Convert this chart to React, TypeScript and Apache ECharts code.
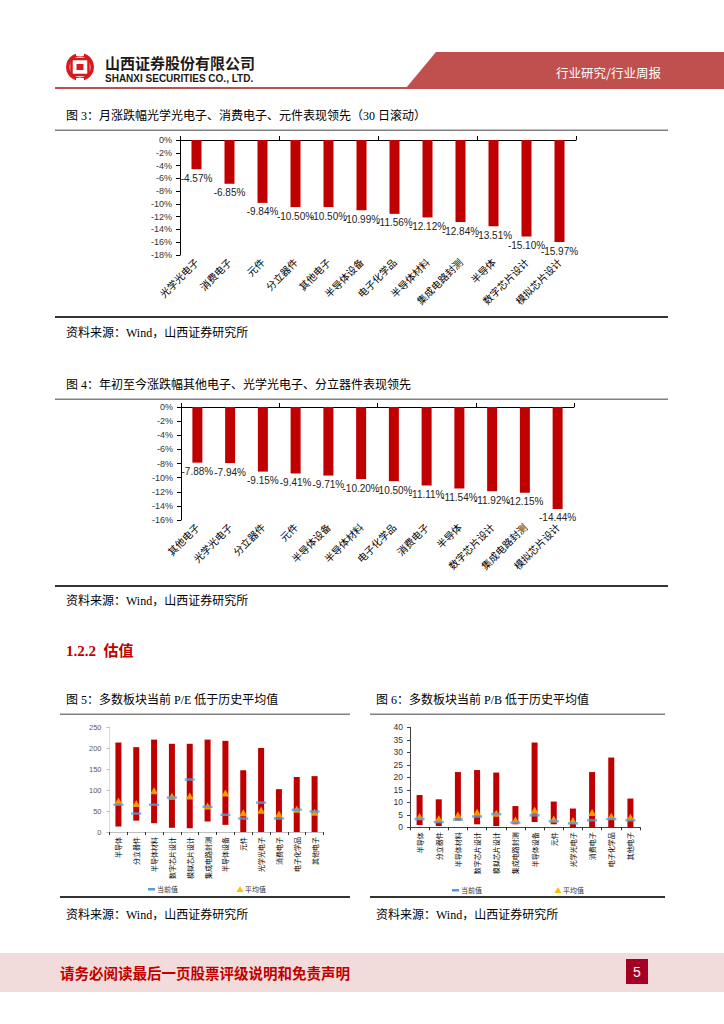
import React, { useEffect, useRef } from "react";
import * as echarts from "echarts";

const cats3 = ["光学光电子", "消费电子", "元件", "分立器件", "其他电子", "半导体设备", "电子化学品", "半导体材料", "集成电路封测", "半导体", "数字芯片设计", "模拟芯片设计"];
const vals3 = [-4.57, -6.85, -9.84, -10.5, -10.5, -10.99, -11.56, -12.12, -12.84, -13.51, -15.1, -15.97];

const cats4 = ["其他电子", "光学光电子", "分立器件", "元件", "半导体设备", "半导体材料", "电子化学品", "消费电子", "半导体", "数字芯片设计", "集成电路封测", "模拟芯片设计"];
const vals4 = [-7.88, -7.94, -9.15, -9.41, -9.71, -10.2, -10.5, -11.11, -11.54, -11.92, -12.15, -14.44];

const cats5 = ["半导体", "分立器件", "半导体材料", "数字芯片设计", "模拟芯片设计", "集成电路封测", "半导体设备", "元件", "光学光电子", "消费电子", "电子化学品", "其他电子"];
const peMax = [213, 202, 220, 210, 210, 220, 217, 147, 200, 102, 131, 133];
const peMin = [13, 27, 21, 10, 9, 25, 17, 0, 0, 0, 0, 0];
const peCur = [65, 44, 65, 82, 125, 60, 41, 32, 70, 32, 53, 49];
const peAvg = [74, 68, 98, 85, 86, 62, 93, 46, 52, 43, 54, 47];

const cats6 = ["半导体", "分立器件", "半导体材料", "数字芯片设计", "模拟芯片设计", "集成电路封测", "半导体设备", "元件", "光学光电子", "消费电子", "电子化学品", "其他电子"];
const pbMax = [12.9, 11.2, 22.1, 22.9, 21.9, 8.5, 33.9, 10.3, 7.5, 22.1, 27.9, 11.5];
const pbMin = [0.9, 0.5, 2.7, 1.2, 0.5, 1.2, 2.1, 1.2, 0, 0, 0, 0];
const pbCur = [3.3, 2.1, 3.1, 4.3, 5.3, 1.9, 4.8, 2.4, 1.6, 2.8, 3.3, 2.8];
const pbAvg = [4.3, 3.5, 4.9, 6.0, 5.6, 2.9, 6.8, 3.3, 2.7, 5.9, 4.4, 4.0];

const RED = "#C00000";
const SANS = "Liberation Sans, Noto Sans CJK SC, sans-serif";
const SERIF = "Liberation Serif, Noto Sans CJK SC, serif";
const CJK = "Noto Sans CJK SC, sans-serif";

function txt(x: number, y: number, text: string, size: number, color: string, opts: any = {}) {
  return {
    type: "text",
    x,
    y,
    silent: true,
    style: {
      text,
      fill: color,
      fontSize: size,
      fontFamily: opts.family || SERIF,
      fontWeight: opts.weight || "normal",
      textAlign: opts.align || "left",
      textVerticalAlign: "middle",
    },
  };
}
function rect(x: number, y: number, w: number, h: number, fill: string) {
  return { type: "rect", silent: true, shape: { x, y, width: w, height: h }, style: { fill } };
}

export default function App() {
  const ref = useRef<HTMLDivElement>(null);
  useEffect(() => {
    if (!ref.current) return;
    const chart = echarts.init(ref.current, undefined, { renderer: "svg" });

    const pctAxisLabel = { fontSize: 9, color: "#333", fontFamily: SANS, formatter: (v: number) => `${v}%` };
    const barLabel = {
      show: true,
      position: "bottom",
      distance: 4,
      fontSize: 10,
      color: "#222",
      fontFamily: SANS,
      formatter: (p: any) => `${Number(p.value).toFixed(2)}%`,
    };

    const graphic: any[] = [
      // header
      { type: "polygon", silent: true, shape: { points: [[436, 52], [724, 52], [724, 88], [406, 88]] }, style: { fill: "#C0504D" } },
      rect(55, 87, 669, 2, "#C0504D"),
      { type: "ring", silent: true, shape: { cx: 80, cy: 67, r: 14, r0: 10.5 }, style: { fill: "#D7191C" } },
      rect(76, 52, 8, 4, "#fff"),
      rect(76, 78, 8, 4, "#fff"),
      { type: "rect", silent: true, shape: { x: 71.5, y: 59, width: 17, height: 16 }, style: { fill: "none", stroke: "#D7191C", lineWidth: 2.5 } },
      rect(76.5, 64, 7, 6, "#D7191C"),
      txt(105, 62, "山西证券股份有限公司", 15, "#231815", { family: CJK, weight: "bold" }),
      txt(105, 78, "SHANXI SECURITIES CO., LTD.", 10, "#231815", { family: SANS, weight: "bold" }),
      txt(556, 72, "行业研究/行业周报", 12.5, "#ffffff", { family: CJK }),

      // chart 3
      txt(66, 116, "图 3：月涨跌幅光学光电子、消费电子、元件表现领先（30 日滚动）", 12, "#000", { family: SERIF }),
      rect(55, 129.5, 613, 1.5, "#808080"),
      rect(55, 316, 613, 2, "#333"),
      txt(66, 333, "资料来源：Wind，山西证券研究所", 12, "#000", { family: SERIF }),

      // chart 4
      txt(66, 385, "图 4：年初至今涨跌幅其他电子、光学光电子、分立器件表现领先", 12, "#000", { family: SERIF }),
      rect(55, 398.5, 613, 1.5, "#808080"),
      rect(55, 585, 613, 2, "#333"),
      txt(66, 601, "资料来源：Wind，山西证券研究所", 12, "#000", { family: SERIF }),

      // section
      txt(66, 651, "1.2.2  估值", 15, RED, { family: SERIF, weight: "bold" }),

      // chart 5
      txt(66, 700, "图 5：多数板块当前 P/E 低于历史平均值", 12, "#000", { family: SERIF }),
      rect(60, 713.5, 290, 1.5, "#808080"),
      rect(60, 896, 290, 2, "#333"),
      txt(66, 915, "资料来源：Wind，山西证券研究所", 12, "#000", { family: SERIF }),
      rect(148, 888, 7, 2.5, "#5B9BD5"),
      txt(157, 889, "当前值", 7, "#333", { family: CJK }),
      { type: "polygon", silent: true, shape: { points: [[240, 886], [243.5, 892], [236.5, 892]] }, style: { fill: "#FFC000" } },
      txt(245, 889, "平均值", 7, "#333", { family: CJK }),

      // chart 6
      txt(376, 700, "图 6：多数板块当前 P/B 低于历史平均值", 12, "#000", { family: SERIF }),
      rect(370, 713.5, 295, 1.5, "#808080"),
      rect(370, 896, 295, 2, "#333"),
      txt(376, 915, "资料来源：Wind，山西证券研究所", 12, "#000", { family: SERIF }),
      rect(452, 889, 7, 2.5, "#5B9BD5"),
      txt(461, 890, "当前值", 7, "#333", { family: CJK }),
      { type: "polygon", silent: true, shape: { points: [[558, 887], [561.5, 893], [554.5, 893]] }, style: { fill: "#FFC000" } },
      txt(563, 890, "平均值", 7, "#333", { family: CJK }),

      // footer
      rect(0, 953, 724, 39, "#F2DCDB"),
      txt(60, 972, "请务必阅读最后一页股票评级说明和免责声明", 14.5, RED, { family: CJK, weight: "bold" }),
      rect(626, 959, 22, 25, "#A50021"),
      txt(637, 971.5, "5", 14, "#fff", { family: SANS, align: "center" }),
    ];

    const topAxis = (grid: number, data: string[]) => ({
      type: "category",
      gridIndex: grid,
      data,
      position: "top",
      axisLine: { show: true, lineStyle: { color: "#000", width: 1 } },
      axisTick: { show: true, length: 4, lineStyle: { color: "#000" } },
      axisLabel: { show: false },
    });
    const bottomLabelAxis = (grid: number, data: string[]) => ({
      type: "category",
      gridIndex: grid,
      data,
      position: "bottom",
      axisLine: { show: false },
      axisTick: { show: false },
      axisLabel: { interval: 0, rotate: 45, fontSize: 10, color: "#000", fontFamily: CJK, margin: 5 },
    });
    const vAxis = (grid: number, data: string[], color: string) => ({
      type: "category",
      gridIndex: grid,
      data,
      position: "bottom",
      axisLine: { show: true, lineStyle: { color, width: 1 } },
      axisTick: { show: true, length: 3, interval: 0, lineStyle: { color: "#333" } },
      axisLabel: { interval: 0, rotate: 90, fontSize: 7, color: "#000", fontFamily: CJK, margin: 5 },
    });

    const option: any = {
      animation: false,
      backgroundColor: "#fff",
      graphic: { elements: graphic },
      grid: [
        { left: 180, top: 140, width: 396, height: 115 },
        { left: 181, top: 407, width: 393, height: 113 },
        { left: 109.5, top: 727, width: 214, height: 105 },
        { left: 410, top: 727.3, width: 230, height: 100 },
      ],
      xAxis: [
        topAxis(0, cats3),
        bottomLabelAxis(0, cats3),
        topAxis(1, cats4),
        bottomLabelAxis(1, cats4),
        vAxis(2, cats5, "#bfbfbf"),
        vAxis(3, cats6, "#404040"),
      ],
      yAxis: [
        { type: "value", gridIndex: 0, min: -18, max: 0, interval: 2, splitLine: { show: false }, axisLine: { show: true, lineStyle: { color: "#000" } }, axisTick: { show: true, length: 4 }, axisLabel: pctAxisLabel },
        { type: "value", gridIndex: 1, min: -16, max: 0, interval: 2, splitLine: { show: false }, axisLine: { show: true, lineStyle: { color: "#000" } }, axisTick: { show: true, length: 4 }, axisLabel: pctAxisLabel },
        { type: "value", gridIndex: 2, min: 0, max: 250, interval: 50, splitLine: { show: false }, axisLine: { show: true, lineStyle: { color: "#d9d9d9" } }, axisTick: { show: true, length: 3, lineStyle: { color: "#bfbfbf" } }, axisLabel: { fontSize: 7.5, color: "#595959", fontFamily: SANS, margin: 8 } },
        { type: "value", gridIndex: 3, min: 0, max: 40, interval: 5, splitLine: { show: false }, axisLine: { show: true, lineStyle: { color: "#404040" } }, axisTick: { show: true, length: 3, lineStyle: { color: "#404040" } }, axisLabel: { fontSize: 8.5, color: "#333", fontFamily: SANS, margin: 7 } },
      ],
      series: [
        { type: "bar", xAxisIndex: 0, yAxisIndex: 0, data: vals3, barWidth: 10, itemStyle: { color: RED }, label: barLabel },
        { type: "bar", xAxisIndex: 2, yAxisIndex: 1, data: vals4, barWidth: 10, itemStyle: { color: RED }, label: barLabel },

        { type: "bar", xAxisIndex: 4, yAxisIndex: 2, stack: "pe", data: peMin, barWidth: 6, itemStyle: { color: "rgba(0,0,0,0)" }, silent: true },
        { type: "bar", xAxisIndex: 4, yAxisIndex: 2, stack: "pe", data: peMax.map((v, i) => v - peMin[i]), barWidth: 6, itemStyle: { color: RED } },
        { type: "scatter", xAxisIndex: 4, yAxisIndex: 2, data: peCur, symbol: "rect", symbolSize: [10, 2.5], itemStyle: { color: "#5B9BD5" }, z: 4 },
        { type: "scatter", xAxisIndex: 4, yAxisIndex: 2, data: peAvg, symbol: "triangle", symbolSize: [8, 7], itemStyle: { color: "#FFC000" }, z: 3 },

        { type: "bar", xAxisIndex: 5, yAxisIndex: 3, stack: "pb", data: pbMin, barWidth: 6, itemStyle: { color: "rgba(0,0,0,0)" }, silent: true },
        { type: "bar", xAxisIndex: 5, yAxisIndex: 3, stack: "pb", data: pbMax.map((v, i) => v - pbMin[i]), barWidth: 6, itemStyle: { color: RED } },
        { type: "scatter", xAxisIndex: 5, yAxisIndex: 3, data: pbCur, symbol: "rect", symbolSize: [10, 2.5], itemStyle: { color: "#5B9BD5" }, z: 4 },
        { type: "scatter", xAxisIndex: 5, yAxisIndex: 3, data: pbAvg, symbol: "triangle", symbolSize: [8, 7], itemStyle: { color: "#FFC000" }, z: 3 },
      ],
    };
    chart.setOption(option);
    return () => chart.dispose();
  }, []);

  return <div ref={ref} style={{ position: "absolute", left: 0, top: 0, width: 724, height: 1024 }} />;
}
